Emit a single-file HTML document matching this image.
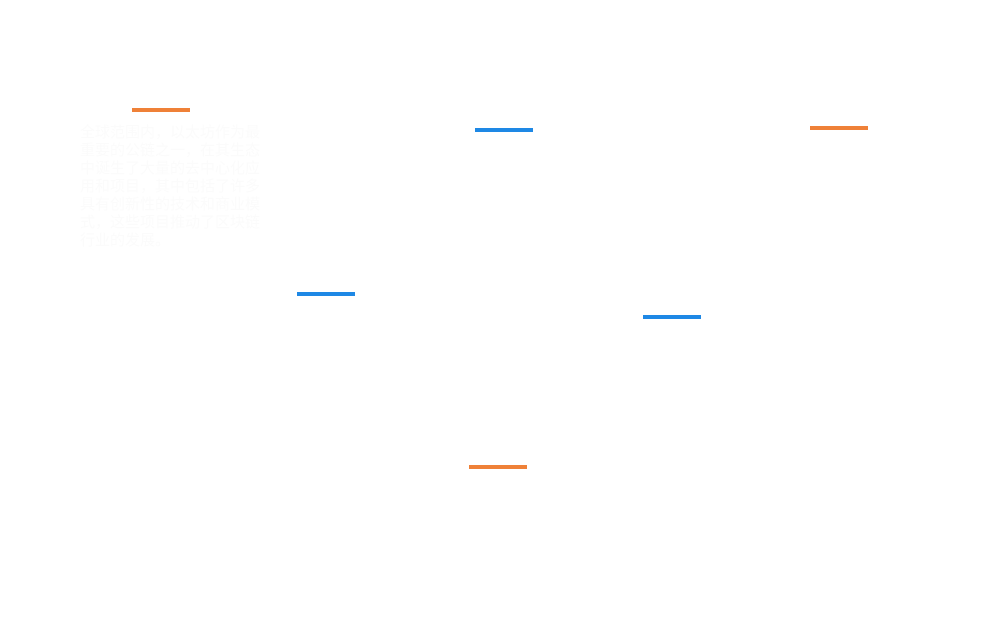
<!DOCTYPE html>
<html><head><meta charset="utf-8"><style>
html,body{margin:0;padding:0;background:#fff;}
body{width:993px;height:642px;position:relative;overflow:hidden;font-family:"Liberation Sans","Noto Sans CJK SC",sans-serif;}
.b{position:absolute;height:4px;width:58px;}
.o{background:#ef8138;}
.u{background:#1e88e5;}
.t{position:absolute;left:80px;top:124px;width:180px;font-size:15px;line-height:18px;color:#fbfbfb;}
</style></head><body>
<div class="b o" style="left:132px;top:108px"></div>
<div class="b u" style="left:475px;top:128px"></div>
<div class="b o" style="left:810px;top:126px"></div>
<div class="b u" style="left:297px;top:292px"></div>
<div class="b u" style="left:643px;top:315px"></div>
<div class="b o" style="left:469px;top:465px"></div>
<div class="t">全球范围内，以太坊作为最重要的公链之一，在其生态中诞生了大量的去中心化应用和项目，其中包括了许多具有创新性的技术和商业模式，这些项目推动了区块链行业的发展。</div>
</body></html>
